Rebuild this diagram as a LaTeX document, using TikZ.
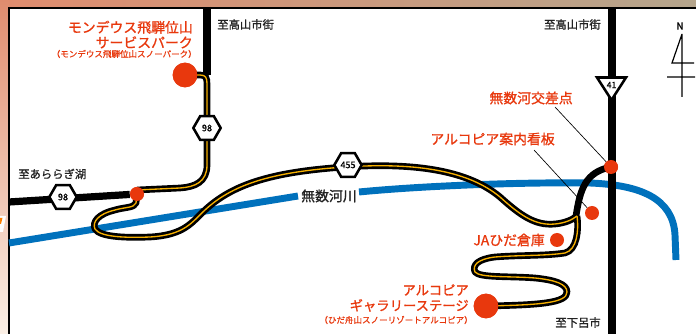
\documentclass[tikz,border=0pt]{standalone}
\usepackage{fontspec}
\setmainfont{Noto Sans CJK JP}
\newfontfamily\medfont{Noto Sans CJK JP}[FakeBold=1]
\newfontfamily\lightmed{Noto Sans CJK JP}[FakeBold=0.5]
\usetikzlibrary{shapes.geometric}
\definecolor{accent}{HTML}{E8380D}
\definecolor{riverblue}{HTML}{0071BC}
\definecolor{roadyellow}{HTML}{F7B100}
\definecolor{edgea}{HTML}{E08C6E}
\definecolor{edgeb}{HTML}{B5A58C}
\definecolor{edgec}{HTML}{FBF0E6}
\definecolor{inkdark}{HTML}{222222}
\tikzset{x=0.75pt,y=-0.75pt,
  redlabel/.style={text=accent,font=\medfont\fontsize{10.4pt}{11.4pt}\selectfont,align=right,inner sep=0pt},
  redsmall/.style={text=accent,font=\lightmed\fontsize{6.4pt}{7pt}\selectfont,inner sep=0pt},
  blacklabel/.style={text=inkdark,font=\medfont\fontsize{8.5pt}{10pt}\selectfont,inner sep=0pt},
  spot/.style={circle,fill=accent,inner sep=0pt,minimum size=#1},
  hexsign/.style={regular polygon,regular polygon sides=6,draw=black,fill=white,line width=1.9pt,minimum size=20.5pt,inner sep=0pt,font=\lightmed\fontsize{6.8pt}{7pt}\selectfont},
  roadblack/.style={line width=5pt,black},
  roadyel/.style={line width=1pt,roadyellow},
  plain/.style={line width=5.4pt,black},
  river/.style={line width=5.2pt,riverblue},
  leader/.style={line width=0.5pt,black}}
\begin{document}
\begin{tikzpicture}
\useasboundingbox (0,0) rectangle (696,334);
\shade[left color=edgea,right color=edgeb] (0,0) rectangle (696,8);
\shade[top color=edgea,bottom color=edgec] (0,0) rectangle (9,334);
\fill[white] (0,216) -- (6,216) -- (3,232) -- (0,232) -- cycle;
\fill[orange] (0,218) -- (2.5,218) -- (1,224) -- (0,224) -- cycle;
\fill[white] (9,8) rectangle (696,334);
\draw[black,line width=1.5pt] (9,334) -- (9,8.5) -- (696,8.5);
% river
\coordinate (r0) at (9,243);
\coordinate (r1) at (298,196);
\coordinate (r2) at (359,192);
\coordinate (r3) at (676,260);
\draw[river] (r0) -- (r1);
\draw[river] (r2) .. controls (420,186) and (520,182) .. (590,183)
  .. controls (640,185) and (673,198) .. (675,235) -- (r3);
\node[blacklabel,font=\medfont\fontsize{10.4pt}{11pt}\selectfont] (riverlabel) at (329,196) {無数河川};
% plain black roads
\coordinate (n1) at (207,7);
\coordinate (n2) at (612,7);
\coordinate (n3) at (612,334);
\coordinate (w0) at (9,202);
\node[spot=18.5pt] (gl) at (185,75) {};
\node[spot=10.5pt] (junc) at (137,194) {};
\node[spot=10.5pt] (mu) at (611,167) {};
\node[spot=10.5pt] (sign) at (592,213) {};
\node[spot=10.5pt] (ja) at (557,240) {};
\node[spot=18.5pt] (ga) at (486,306) {};
\draw[plain] (n1) -- (207,75);
\draw[plain] (n2) -- (n3);
\draw[line width=5.4pt] (w0) -- (junc);
% yellow roads
\def\roadA{(gl.center) -- (200,75) .. controls (206,75) and (207,78) .. (207,84) -- (207,165) .. controls (207,182) and (195,187) .. (180,188) -- (137,190)}
\def\roadB{(137,194) -- (136,203) .. controls (134,208) and (125,207) .. (115,210) .. controls (98,214) and (92,222) .. (95,229) .. controls (100,237) and (125,238) .. (150,237) .. controls (185,235) and (192,222) .. (205,210) .. controls (232,185) and (270,172) .. (345,167) .. controls (420,162) and (470,172) .. (500,197) .. controls (520,215) and (535,226) .. (555,224) .. controls (565,223) and (572,220) .. (577,216)}
\def\roadC{(577,216) .. controls (579,230) and (577,250) .. (565,253) .. controls (545,256) and (520,255) .. (495,257) .. controls (478,259) and (472,265) .. (475,272) .. controls (480,278) and (510,276) .. (535,278) .. controls (555,280) and (567,284) .. (567,292) .. controls (567,303) and (540,305) .. (486,306)}
\draw[roadblack] \roadA;
\draw[roadblack,line join=round] \roadB;
\draw[roadblack,line join=round] \roadC;
\draw[line width=5pt] (576,216) .. controls (580,190) and (585,172) .. (mu.center);
\draw[roadyel] \roadA;
\draw[roadyel] \roadB;
\draw[roadyel] \roadC;
\node[spot=18.5pt] at (gl) {};
\node[spot=10.5pt] at (junc) {};
\node[spot=10.5pt] at (mu) {};
\node[spot=18.5pt] at (ga) {};
% signs
\node[hexsign] (h98a) at (207,128) {98};
\node[hexsign] (h98b) at (63,197) {98};
\node[hexsign] (h455) at (348,165) {455};
\coordinate (ta) at (597,77.5);
\coordinate (tb) at (626,77.5);
\coordinate (tc) at (611.5,100);
\draw[fill=white,line width=1.9pt,line join=miter] (ta) -- (tb) -- (tc) -- cycle;
\node[font=\lightmed\fontsize{6.5pt}{7pt}\selectfont,inner sep=0pt] (t41) at (611.5,85) {41};
% leaders
\coordinate (lead1) at (555,107);
\coordinate (lead2) at (534,150);
\draw[leader] (lead1) -- (mu);
\draw[leader] (lead2) -- (sign);
% labels
\node[redlabel,anchor=north east] (title1) at (193,20.5) {モンデウス飛騨位山\\サービスパーク};
\node[redsmall,anchor=east] (title1s) at (197,54) {（モンデウス飛騨位山スノーパーク）};
\node[redlabel,anchor=east] (mulabel) at (573,98) {無数河交差点};
\node[redlabel,anchor=east] (signlabel) at (555,139) {アルコピア案内看板};
\node[redlabel,anchor=east] (jalabel) at (545,240) {JAひだ倉庫};
\node[redlabel,anchor=north east,font=\medfont\fontsize{10pt}{11.6pt}\selectfont] (galabel) at (469,284) {アルコピア\\ギャラリーステージ};
\node[redsmall,anchor=east] (gasmall) at (473,320) {（ひだ舟山スノーリゾートアルコピア）};
\node[blacklabel,anchor=west] (to1) at (217,24.5) {至高山市街};
\node[blacklabel,anchor=east] (to2) at (601,24.5) {至高山市街};
\node[blacklabel,anchor=west] (to3) at (18,174) {至あららぎ湖};
\node[blacklabel,anchor=east] (to4) at (601,322.5) {至下呂市};
% north
\node[font=\medfont\fontsize{7.5pt}{8pt}\selectfont,inner sep=0pt] (north) at (680,26) {N};
\coordinate (na) at (682,34);
\coordinate (nb) at (682,97);
\coordinate (nc) at (672,63);
\coordinate (nd) at (694,63);
\coordinate (ne) at (667,77);
\coordinate (nf) at (695,77);
\draw[line width=0.9pt] (na) -- (nb) (na) -- (nc) -- (nd) (ne) -- (nf);
\end{tikzpicture}
\end{document}
